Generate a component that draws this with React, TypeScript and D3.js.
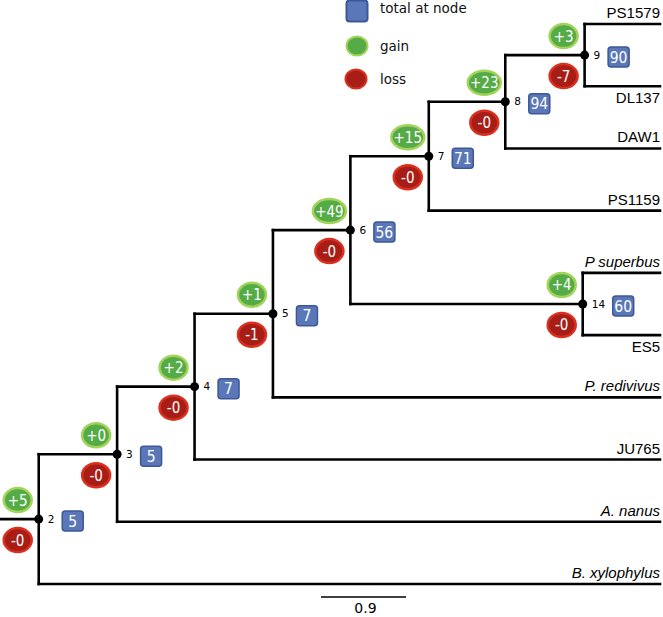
import React from "react";
import * as d3 from "d3";

// ---- Data ----
const tipNames = ["PS1579", "DL137", "DAW1", "PS1159", "P superbus", "ES5", "P. redivivus", "JU765", "A. nanus", "B. xylophylus"];
const tipParents = [9, 9, 8, 7, 14, 14, 5, 4, 3, 2];
const tipItalic = [false, false, false, false, true, false, true, false, true, true];

const nodeIds = [2, 3, 4, 5, 6, 7, 8, 9, 14];
const nodeParents = [null, 2, 3, 4, 5, 6, 7, 8, 6];
const nodeBranch = [0.41, 0.83, 0.82, 0.83, 0.82, 0.83, 0.81, 0.84, 2.46];
const nodeGain = [5, 0, 2, 1, 49, 15, 23, 3, 4];
const nodeLoss = [0, 0, 0, 1, 0, 0, 0, 7, 0];
const nodeTotal = [5, 5, 7, 7, 56, 71, 94, 90, 60];

const scaleBarValue = 0.9;
const legendItems = ["total at node", "gain", "loss"];

// ---- Styles ----
const W = 663, H = 617;
const BLUE = "#5a77b7", BLUE_S = "#3e5897";
const GREEN = "#55ab46", GREEN_S = "#a3d35a";
const RED = "#a81e16", RED_S = "#d9301f";
const CONDENSED = "'DejaVu Sans Condensed', 'DejaVu Sans', sans-serif";

export default function App() {
  const x = d3.scaleLinear().domain([0, scaleBarValue]).range([0, 85]);
  const y = d3.scalePoint<string>().domain(tipNames).range([24, 584]);
  const tipEnd = 660;

  type N = { id: string; tip: boolean; children: N[]; depth: number; x: number; y: number; idx: number };
  const map = new Map<string, N>();
  nodeIds.forEach((id, i) => map.set("n" + id, { id: "n" + id, tip: false, children: [], depth: 0, x: 0, y: 0, idx: i }));
  tipNames.forEach((t, i) => map.set("t" + i, { id: "t" + i, tip: true, children: [], depth: 0, x: 0, y: 0, idx: i }));
  nodeIds.forEach((id, i) => { const p = nodeParents[i]; if (p != null) map.get("n" + p)!.children.push(map.get("n" + id)!); });
  tipNames.forEach((t, i) => map.get("n" + tipParents[i])!.children.push(map.get("t" + i)!));
  const root = map.get("n2")!;
  const minTip = (n: N): number => n.tip ? n.idx : Math.min(...n.children.map(minTip));
  const sortRec = (n: N) => { n.children.sort((a, b) => minTip(a) - minTip(b)); n.children.forEach(sortRec); };
  sortRec(root);
  const layout = (n: N, depth: number) => {
    if (n.tip) { n.x = tipEnd; n.y = y(tipNames[n.idx])!; return; }
    n.depth = depth + nodeBranch[n.idx];
    n.x = x(n.depth);
    n.children.forEach(c => layout(c, n.depth));
    n.y = (n.children[0].y + n.children[n.children.length - 1].y) / 2;
  };
  layout(root, 0);

  const all: N[] = [];
  const walk = (n: N) => { all.push(n); n.children.forEach(walk); };
  walk(root);
  const internals = all.filter(n => !n.tip);

  const segs: { x1: number; y1: number; x2: number; y2: number }[] = [];
  segs.push({ x1: 0, y1: root.y, x2: root.x, y2: root.y });
  internals.forEach(n => {
    segs.push({ x1: n.x, y1: n.children[0].y, x2: n.x, y2: n.children[n.children.length - 1].y });
    n.children.forEach(c => segs.push({ x1: n.x, y1: c.y, x2: c.x, y2: c.y }));
  });

  const tips: { name: string; y: number; below: boolean; italic: boolean }[] = [];
  internals.forEach(n => {
    const allTips = n.children.every(c => c.tip);
    n.children.forEach((c, k) => {
      if (c.tip) tips.push({ name: tipNames[c.idx], y: c.y, below: allTips && k === n.children.length - 1, italic: tipItalic[c.idx] });
    });
  });

  const badge = (cx: number, cy: number, label: string, fill: string, stroke: string, key: string) => {
    const rx = 14 + 2.5 * (label.length - 2);
    return (
      <g key={key}>
        <ellipse cx={cx} cy={cy} rx={rx} ry={12} fill={fill} stroke={stroke} strokeWidth={2.5} />
        <text x={cx} y={cy} dy="0.36em" textAnchor="middle" fill="#fff" fontFamily={CONDENSED} fontSize={15}>{label}</text>
      </g>
    );
  };

  return (
    <svg width={W} height={H} style={{ position: "absolute", left: 0, top: 0, background: "#fff" }}>
      <rect width={W} height={H} fill="#fff" />
      {/* legend */}
      <rect x={346.5} y={0.5} width={21} height={21} rx={3} fill={BLUE} stroke={BLUE_S} strokeWidth={2} />
      <ellipse cx={357} cy={46} rx={10.5} ry={9.5} fill={GREEN} stroke={GREEN_S} strokeWidth={2} />
      <ellipse cx={356} cy={79} rx={10.5} ry={9.5} fill={RED} stroke={RED_S} strokeWidth={2} />
      {legendItems.map((t, i) => (
        <text key={t} x={380} y={[8, 46, 79][i]} dy="0.35em" fontFamily="'DejaVu Sans', sans-serif" fontSize={13.5} fill="#111">{t}</text>
      ))}

      {/* branches */}
      {segs.map((s, i) => (
        <line key={i} x1={s.x1} y1={s.y1} x2={s.x2} y2={s.y2} stroke="#000" strokeWidth={2.6} strokeLinecap="square" />
      ))}
      {internals.map(n => <circle key={n.id} cx={n.x} cy={n.y} r={4.5} fill="#000" />)}

      {/* tip labels */}
      {tips.map(t => (
        <text key={t.name} x={tipEnd} y={t.below ? t.y + 16.5 : t.y - 6} textAnchor="end"
          fontFamily="'Liberation Sans', Arial, sans-serif" fontSize={15} fontStyle={t.italic ? "italic" : "normal"} fill="#000">{t.name}</text>
      ))}

      {/* node annotations */}
      {internals.map(n => {
        const i = n.idx;
        const idLabel = String(nodeIds[i]);
        const boxX = n.x + 9 + 6.5 * idLabel.length + 8;
        return (
          <g key={"a" + n.id}>
            <text x={n.x + 9} y={n.y} dy="0.35em" fontFamily="'DejaVu Sans', sans-serif" fontSize={10.5} fill="#000">{idLabel}</text>
            <rect x={boxX} y={n.y + 2 - 10} width={21} height={20} rx={3} fill={BLUE} stroke={BLUE_S} strokeWidth={1.5} />
            <text x={boxX + 10.5} y={n.y + 2} dy="0.36em" textAnchor="middle" fill="#fff" fontFamily={CONDENSED} fontSize={15.5}>{nodeTotal[i]}</text>
            {badge(n.x - 21, n.y - 19, "+" + nodeGain[i], GREEN, GREEN_S, "g")}
            {badge(n.x - 21, n.y + 21, "-" + nodeLoss[i], RED, RED_S, "l")}
          </g>
        );
      })}

      {/* scale bar */}
      <line x1={321} x2={321 + x(scaleBarValue)} y1={597} y2={597} stroke="#000" strokeWidth={1.5} />
      <text x={321 + x(scaleBarValue) / 2 + 2} y={613} textAnchor="middle" fontFamily="'DejaVu Sans', sans-serif" fontSize={14} fill="#000">{String(scaleBarValue)}</text>
    </svg>
  );
}
